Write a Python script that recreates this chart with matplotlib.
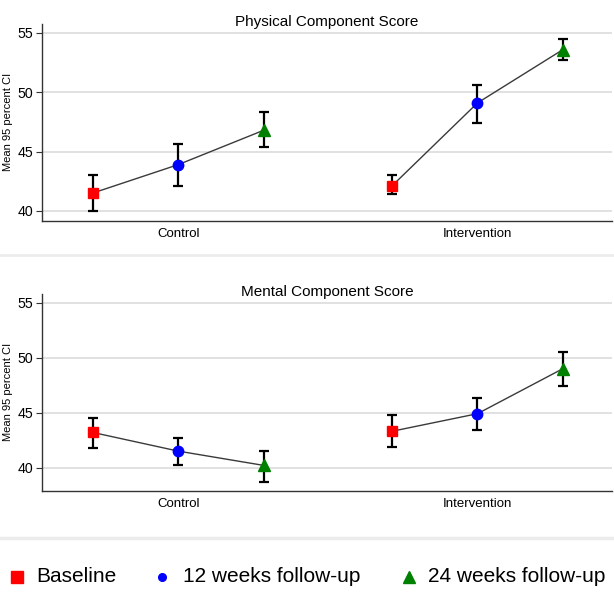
import matplotlib
matplotlib.use("Agg")
import matplotlib.pyplot as plt
from matplotlib.lines import Line2D

# ---- data -----------------------------------------------------------------
groups = ["Control", "Intervention"]
timepoints = ["Baseline", "12 weeks follow-up", "24 weeks follow-up"]

pcs_ctrl_mean = [41.5, 43.9, 46.8]
pcs_ctrl_lo = [40.0, 42.1, 45.4]
pcs_ctrl_hi = [43.0, 45.6, 48.3]
pcs_int_mean = [42.1, 49.1, 53.6]
pcs_int_lo = [41.4, 47.4, 52.7]
pcs_int_hi = [43.0, 50.6, 54.5]

mcs_ctrl_mean = [43.2, 41.5, 40.2]
mcs_ctrl_lo = [41.8, 40.2, 38.7]
mcs_ctrl_hi = [44.5, 42.7, 41.5]
mcs_int_mean = [43.3, 44.9, 49.0]
mcs_int_lo = [41.9, 43.4, 47.4]
mcs_int_hi = [44.8, 46.3, 50.5]

yticks = [40, 45, 50, 55]

# ---- style ----------------------------------------------------------------
FONT = "Liberation Sans"
COLORS = ["#ff0000", "#0000ff", "#008000"]
MARKERS = ["s", "o", "^"]
MSIZE = [7, 7.5, 8.5]
LEG_MSIZE = [8, 5.5, 8.5]
AXC = "#333333"
GRID = "#dcdcdc"
plt.rcParams["font.family"] = FONT

fig = plt.figure(figsize=(6.14, 5.97), dpi=100)
ax_top = fig.add_axes([0.068, 0.630, 0.929, 0.330])
ax_bot = fig.add_axes([0.068, 0.178, 0.929, 0.330])

offsets = [-0.286, 0.0, 0.286]


def panel(ax, title, ctrl, intv, ylim):
    for gi, (mean, lo, hi) in enumerate([ctrl, intv]):
        xs = [gi + 1 + o for o in offsets]
        ax.plot(xs, mean, color="#3a3a3a", lw=1.0, zorder=2)
        for k in range(3):
            ax.errorbar(xs[k], mean[k], yerr=[[mean[k] - lo[k]], [hi[k] - mean[k]]],
                        fmt="none", ecolor="black", elinewidth=1.6, capsize=3.6, capthick=1.6, zorder=3)
            ax.plot(xs[k], mean[k], marker=MARKERS[k], ms=MSIZE[k], color=COLORS[k],
                    ls="none", zorder=4)
    ax.set_xlim(0.544, 2.45)
    ax.set_ylim(*ylim)
    ax.set_yticks(yticks)
    ax.set_yticklabels([str(t) for t in yticks], fontsize=10.2)
    ax.set_xticks([1, 2])
    ax.set_xticklabels(groups, fontsize=9.5)
    ax.tick_params(axis="x", length=0, pad=5)
    ax.tick_params(axis="y", length=4, width=0.8, color=AXC, pad=2)
    ax.grid(axis="y", color=GRID, lw=1.2)
    ax.set_axisbelow(True)
    for s in ("top", "right"):
        ax.spines[s].set_visible(False)
    for s in ("left", "bottom"):
        ax.spines[s].set_color(AXC)
        ax.spines[s].set_linewidth(1.0)
    ax.set_ylabel("Mean 95 percent CI", fontsize=8)
    ax.yaxis.set_label_coords(-0.05, 0.5)
    ax.text(0.5, 1.01, title, transform=ax.transAxes, ha="center", va="center", fontsize=11)


panel(ax_top, "Physical Component Score",
      (pcs_ctrl_mean, pcs_ctrl_lo, pcs_ctrl_hi),
      (pcs_int_mean, pcs_int_lo, pcs_int_hi), (39.16, 55.76))
panel(ax_bot, "Mental Component Score",
      (mcs_ctrl_mean, mcs_ctrl_lo, mcs_ctrl_hi),
      (mcs_int_mean, mcs_int_lo, mcs_int_hi), (37.9, 55.8))

# divider lines between panels and above the legend
fig.add_artist(Line2D([0, 1], [1 - 255 / 597] * 2, color="#ececec", lw=2))
fig.add_artist(Line2D([0, 1], [1 - 538 / 597] * 2, color="#ececec", lw=2.5))

# legend, laid out by hand
leg_y = 1 - 577 / 597
marker_x = [17 / 614, 162 / 614, 409 / 614]
text_x = [36 / 614, 183 / 614, 428 / 614]
for k in range(3):
    fig.add_artist(Line2D([marker_x[k]], [leg_y], marker=MARKERS[k], ms=LEG_MSIZE[k],
                          color=COLORS[k], ls="none"))
    fig.text(text_x[k], leg_y, timepoints[k], ha="left", va="center", fontsize=15)

fig.savefig("out.png", dpi=100, facecolor="white")
